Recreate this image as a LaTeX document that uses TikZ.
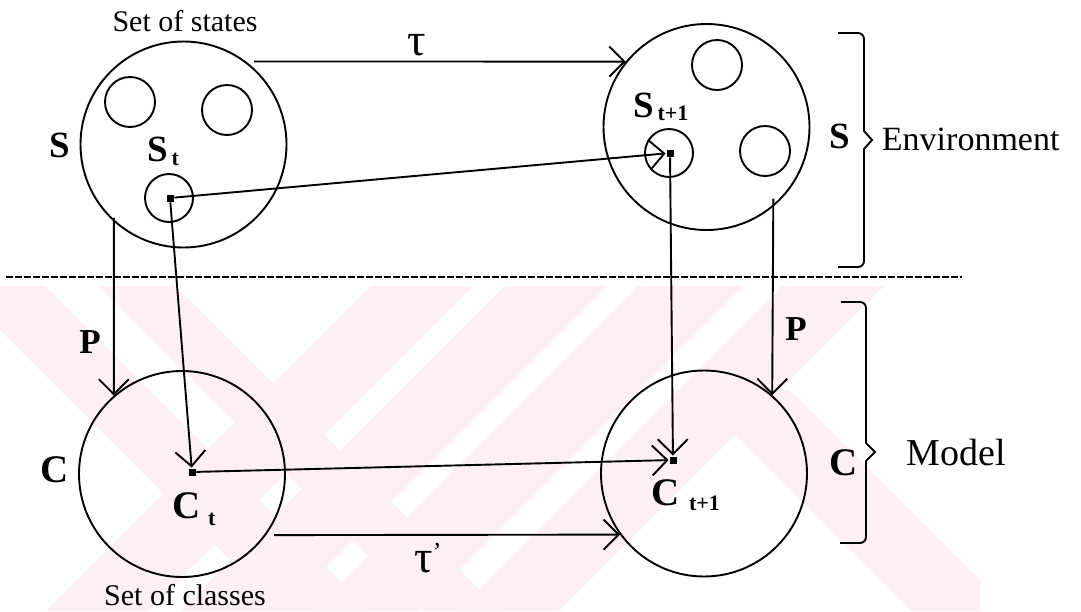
\documentclass[tikz,border=0pt]{standalone}
\usepackage{fontspec}
\setmainfont{Liberation Serif}
\usetikzlibrary{arrows.meta}
\definecolor{wm}{RGB}{254,239,242}
\begin{document}
\begin{tikzpicture}[x=1pt,y=-1pt,line width=1.9pt,
  big/.style={circle,draw,minimum size=206pt,inner sep=0pt},
  small/.style={circle,draw,minimum size=50pt,inner sep=0pt},
  dot/.style={rectangle,fill,minimum size=7pt,inner sep=0pt},
  arr/.style={-{Straight Barb[length=15pt,width=30pt]}},
  bigl/.style={font=\fontsize{37}{40}\selectfont\bfseries,inner sep=0pt,anchor=base},
  subl/.style={font=\fontsize{37}{40}\selectfont\bfseries,inner sep=0pt,anchor=base west},
  subt/.style={font=\fontsize{22}{24}\selectfont\bfseries},
  plain/.style={inner sep=0pt,anchor=base},
  brace/.style={line width=1.9pt}
]
\useasboundingbox[fill=white] (0,0) rectangle (1081,611);
% watermark
\begin{scope}
\clip (0,286) rectangle (980,611);
\foreach \a/\b in {657/759,791/893,924/1029,1068/1170}
  \fill[wm] (\a-286,286) -- (\b-286,286) -- (\b-611,611) -- (\a-611,611) -- cycle;
\foreach \a/\b in {-330/-241,-187/-110}
  \fill[wm] (\a+286,286) -- (\b+286,286) -- (\b+611,611) -- (\a+611,611) -- cycle;
\fill[wm] (300+390,390) -- (400+390,390) -- (400+611,611) -- (300+611,611) -- cycle;
\end{scope}
% big circles
\node[big] (S) at (183.5,144.5) {};
\node[big] (S2) at (706.5,127) {};
\node[big] (C) at (182,474) {};
\node[big] (C2) at (704,473.5) {};
% small circles
\node[small] (sa) at (130,102) {};
\node[small] (sb) at (227,110) {};
\node[small,minimum size=48pt] (sc) at (169,198) {};
\node[small] (sd) at (717,65) {};
\node[small] (se) at (765,151) {};
\node[small,minimum size=48pt] (sf) at (669,153) {};
% dots
\node[dot] (st) at (170,198) {};
\node[dot] (st1) at (670,153) {};
\node[dot] (ct) at (192,472) {};
\node[dot] (ct1) at (673,460) {};
% dashed separator
\coordinate (dl) at (6,277);
\coordinate (dr) at (962,277);
\draw[dash pattern=on 7pt off 2pt,line width=1.9pt] (dl) -- (dr);
% connectors
\draw[arr] ([xshift=8pt]S.53) -- (S2.141);
\draw[arr] ([xshift=8pt]C.324) -- (C2.216);
\draw[arr] ([yshift=4pt]S.228) -- (C.131);
\draw[arr] ([yshift=8pt]S2.310) -- (C2.49);
\draw[arr] (st) -- (st1);
\draw[arr] (st) -- (ct);
\draw[arr] (ct) -- (ct1);
\draw[arr] (st1) -- (ct1);
% braces
\draw[brace,rounded corners=6pt] (838,33) -- (864,33) -- (864,110) [sharp corners] -- (864,131) -- (872,140) -- (864,149) [rounded corners=6pt] -- (864,267) -- (838,267);
\draw[brace,rounded corners=6pt] (841,302) -- (866,302) -- (866,420) [sharp corners] -- (866,443) -- (875,452) -- (866,461) [rounded corners=6pt] -- (866,543) -- (840,543);
% labels
\node[plain,font=\fontsize{30}{32}\selectfont] (tss) at (185,31) {Set of states};
\node[plain,font=\fontsize{30}{32}\selectfont] (tsc) at (185,605) {Set of classes};
\node[plain,font=\fontsize{34}{36}\selectfont,anchor=base west] (tenv) at (881,150) {Environment};
\node[plain,font=\fontsize{38}{40}\selectfont,anchor=base west] (tmod) at (906,465) {Model};
\node[plain,font=\fontsize{46}{48}\selectfont] (tau) at (417,55) {τ};
\node[plain,font=\fontsize{46}{48}\selectfont] (tau2) at (428,572) {τ\raisebox{0.25em}{\fontsize{26}{26}\selectfont '}};
\node[bigl] (lS) at (60,157) {S};
\node[bigl] (lS2) at (840,148) {S};
\node[bigl,font=\fontsize{39}{40}\selectfont\bfseries] (lC) at (55,482) {C};
\node[bigl,font=\fontsize{39}{40}\selectfont\bfseries] (lC2) at (844,475) {C};
\node[bigl,font=\fontsize{35}{38}\selectfont\bfseries] (lP) at (90,353) {P};
\node[bigl,font=\fontsize{35}{38}\selectfont\bfseries] (lP2) at (796,340) {P};
\node[subl] (lst) at (147,161) {S\hspace{3pt}\raisebox{-4pt}{\fontsize{22}{24}\selectfont t}};
\node[subl] (lst1) at (633,117) {S\hspace{3pt}\raisebox{-3pt}{\fontsize{22}{24}\selectfont t+1}};
\node[subl,font=\fontsize{39}{40}\selectfont\bfseries] (lct) at (172,518) {C\hspace{7pt}\raisebox{-7pt}{\fontsize{22}{24}\selectfont t}};
\node[subl,font=\fontsize{39}{40}\selectfont\bfseries] (lct1) at (651,505) {C\hspace{9pt}\raisebox{-5pt}{\fontsize{22}{24}\selectfont t+1}};
\end{tikzpicture}
\end{document}
